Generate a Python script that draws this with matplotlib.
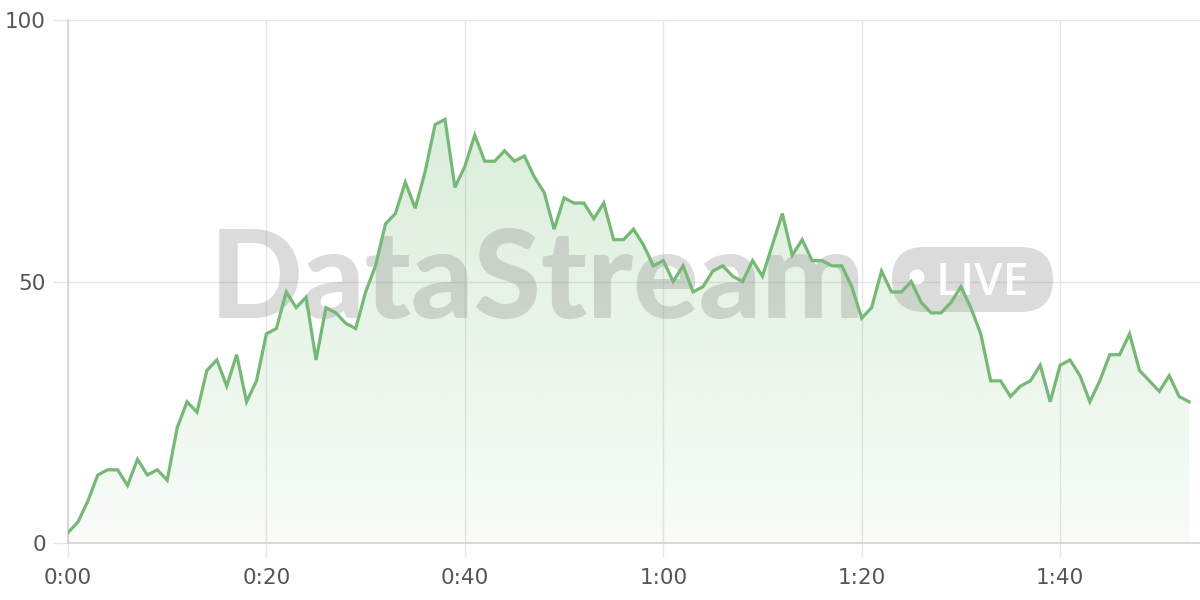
import numpy as np
import matplotlib
matplotlib.use("Agg")
import matplotlib.pyplot as plt
from matplotlib.patches import FancyBboxPatch, Circle
from matplotlib.ticker import FuncFormatter

# sampled value, one per second
level = [2, 4, 8, 13, 14, 14, 11, 16, 13, 14,
         12, 22, 27, 25, 33, 35, 30, 36, 27, 31,
         40, 41, 48, 45, 47, 35, 45, 44, 42, 41,
         48, 53, 61, 63, 69, 64, 71, 80, 81, 68,
         72, 78, 73, 73, 75, 73, 74, 70, 67, 60,
         66, 65, 65, 62, 65, 58, 58, 60, 57, 53,
         54, 50, 53, 48, 49, 52, 53, 51, 50, 54,
         51, 57, 63, 55, 58, 54, 54, 53, 53, 49,
         43, 45, 52, 48, 48, 50, 46, 44, 44, 46,
         49, 45, 40, 31, 31, 28, 30, 31, 34, 27,
         34, 35, 32, 27, 31, 36, 36, 40, 33, 31,
         29, 32, 28, 27]
seconds = list(range(len(level)))

x_ticks = [0, 20, 40, 60, 80, 100]
y_ticks = [0, 50, 100]

LINE = "#76b876"
GRID = "#e6e6e6"
AXIS = "#d2d2d2"
TEXT = "#555555"
FONT = "DejaVu Sans"
WM_FONT = "Lato"

fig = plt.figure(figsize=(12, 6), dpi=100)
ax = fig.add_axes([68 / 1200, 57 / 600, 1 - 68 / 1200, 523 / 600])

# gradient fill under the line
poly = ax.fill_between(seconds, level, 0, color="none", lw=0)
rgb = np.array([120, 190, 120]) / 255
alpha = np.linspace(0.32, 0.05, 256)
grad = np.zeros((256, 1, 4))
grad[:, 0, :3] = rgb
grad[:, 0, 3] = alpha
img = ax.imshow(grad, extent=[0, seconds[-1], 0, 100], aspect="auto",
                origin="upper", zorder=1)
img.set_clip_path(poly.get_paths()[0], transform=ax.transData)

ax.plot(seconds, level, color=LINE, lw=2.3, zorder=4, solid_joinstyle="miter")

# watermark (inch coordinates)
wm = "#888888"
ax.text(2.10, 2.82, "DataStream", transform=fig.dpi_scale_trans,
        fontsize=88, fontweight="black", family=WM_FONT, color=wm, alpha=0.3,
        ha="left", va="baseline", zorder=3, clip_on=False)
pill = FancyBboxPatch((8.92, 2.88), 1.61, 0.65,
                      boxstyle="round,pad=0,rounding_size=0.325",
                      transform=fig.dpi_scale_trans, facecolor=wm,
                      edgecolor="none", alpha=0.3, zorder=3, clip_on=False)
ax.add_patch(pill)
ax.add_patch(Circle((9.17, 3.23), 0.075, transform=fig.dpi_scale_trans,
                    facecolor="white", edgecolor="none", alpha=0.95,
                    zorder=3, clip_on=False))
ax.text(9.82, 3.05, "LIVE", transform=fig.dpi_scale_trans, fontsize=33,
        family="Open Sans", fontweight="semibold", color="white", alpha=0.95,
        ha="center", va="baseline", zorder=3, clip_on=False)

ax.set_xlim(0, 114.1)
ax.set_ylim(0, 100)
ax.set_xticks(x_ticks)
ax.set_yticks(y_ticks)
ax.xaxis.set_major_formatter(FuncFormatter(lambda v, p: f"{int(v) // 60}:{int(v) % 60:02d}"))
ax.grid(True, color=GRID, lw=1.0, zorder=0)
ax.set_axisbelow(True)
ax.tick_params(axis="x", length=10, width=1.0, color=GRID, pad=8,
               labelsize=15.5, labelcolor=TEXT)
ax.tick_params(axis="y", length=11, width=1.0, color=GRID, pad=5,
               labelsize=15.5, labelcolor=TEXT)
for lab in ax.get_xticklabels() + ax.get_yticklabels():
    lab.set_family(FONT)

for side in ["top", "right"]:
    ax.spines[side].set_visible(False)
ax.spines["left"].set_color(AXIS)
ax.spines["bottom"].set_color(AXIS)
ax.spines["left"].set_linewidth(1.2)
ax.spines["bottom"].set_linewidth(1.2)

fig.savefig("out.png", dpi=100)
